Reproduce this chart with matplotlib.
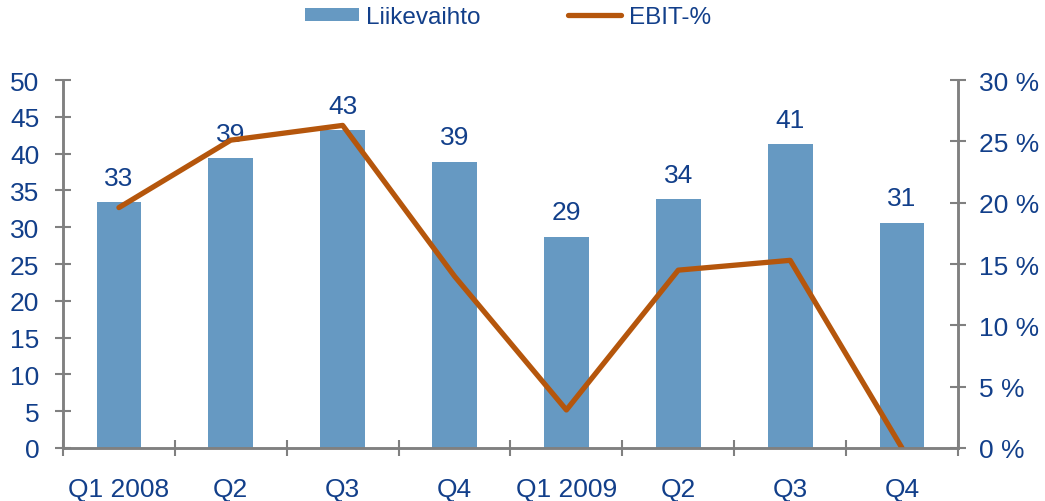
import matplotlib.pyplot as plt
import numpy as np

plt.rcParams['font.family'] = ['Liberation Sans', 'DejaVu Sans']

# data
kvartaalit = ['Q1 2008', 'Q2', 'Q3', 'Q4', 'Q1 2009', 'Q2', 'Q3', 'Q4']
liikevaihto = [33.4, 39.4, 43.2, 38.9, 28.7, 33.8, 41.3, 30.6]
ebit = [19.6, 25.1, 26.3, 14.0, 3.1, 14.5, 15.3, 0.0]

teksti = '#123F8A'
harmaa = '#808080'
sininen = '#6699C2'
oranssi = '#B5560C'

x = np.arange(len(kvartaalit))

fig = plt.figure(figsize=(10.45, 5.02), dpi=100)
ax = fig.add_axes([0.0603, 0.1056, 0.8564, 0.733])
ax2 = ax.twinx()

palkit = ax.bar(x, liikevaihto, width=0.4, color=sininen, label='Liikevaihto', zorder=2)
for xi, v in zip(x, liikevaihto):
    ax.annotate(f'{v:.0f}', (xi, v), xytext=(0, 9), textcoords='offset points',
                ha='center', va='bottom', fontsize=19, color=teksti)

viiva, = ax2.plot(x, ebit, color=oranssi, lw=3.8, label='EBIT-%', solid_capstyle='round')

ax.set_xlim(-0.5, len(x) - 0.5)
ax.set_ylim(0, 50)
ax.set_yticks(np.arange(0, 51, 5))
ax2.set_ylim(0, 30)
ax2.set_yticks(np.arange(0, 31, 5))
ax2.set_yticklabels([f'{v} %' for v in range(0, 31, 5)])

ax.set_xticks(x)
ax.set_xticklabels(kvartaalit)
ax.set_xticks(np.arange(-0.5, len(x), 1), minor=True)
ax.tick_params(axis='x', which='major', length=0, pad=21, labelsize=19, labelcolor=teksti)
ax.tick_params(axis='x', which='minor', direction='inout', length=12, width=1.5, color=harmaa)
ax.tick_params(axis='y', direction='inout', length=12, width=1.5, color=harmaa,
               labelsize=19, labelcolor=teksti, pad=11)
ax2.tick_params(axis='y', direction='inout', length=12, width=1.5, color=harmaa,
                labelsize=19, labelcolor=teksti, pad=9)

for a in (ax, ax2):
    a.spines['top'].set_visible(False)
    for s in ('left', 'right', 'bottom'):
        a.spines[s].set_color(harmaa)
        a.spines[s].set_linewidth(1.8)

fig.legend([palkit, viiva], ['Liikevaihto', 'EBIT-%'], loc='center', bbox_to_anchor=(0.486, 0.964),
           ncol=2, frameon=False, fontsize=17.5, labelcolor=teksti, handlelength=2.2,
           handleheight=0.5, handletextpad=0.3, columnspacing=3.6)

fig.savefig('out.png', dpi=100)
